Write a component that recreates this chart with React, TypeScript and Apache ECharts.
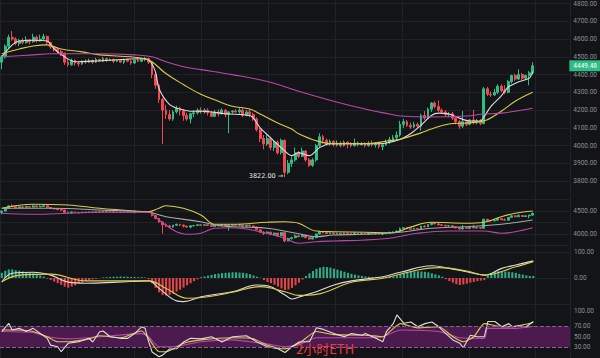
import React, { useEffect, useRef } from 'react';
import * as echarts from 'echarts';

// [open, close, low, high] per 2h candle
const candles: number[][] = [
  [4470,4500,4430,4510],[4500,4560,4490,4570],[4560,4610,4550,4625],[4610,4600,4590,4645],[4600,4575,4565,4610],
  [4575,4590,4560,4600],[4590,4580,4570,4605],[4580,4595,4575,4615],[4595,4585,4570,4600],[4585,4610,4580,4630],
  [4610,4590,4580,4620],[4590,4600,4585,4625],[4600,4615,4595,4630],[4615,4580,4570,4620],[4580,4555,4545,4585],
  [4555,4545,4530,4560],[4545,4530,4520,4555],[4530,4520,4505,4540],[4520,4470,4455,4525],[4470,4455,4445,4490],
  [4455,4480,4450,4490],[4480,4465,4450,4485],[4465,4460,4445,4475],[4460,4475,4455,4480],[4475,4470,4460,4485],
  [4470,4480,4465,4490],[4480,4470,4460,4485],[4470,4485,4465,4495],[4485,4475,4470,4490],[4475,4490,4470,4500],
  [4490,4480,4470,4495],[4480,4485,4475,4490],[4485,4475,4465,4490],[4475,4480,4470,4485],[4480,4470,4465,4485],
  [4470,4485,4460,4490],[4485,4475,4470,4490],[4475,4465,4455,4480],[4465,4480,4460,4485],[4480,4475,4470,4490],
  [4475,4485,4470,4490],[4485,4490,4475,4500],[4490,4470,4460,4495],[4470,4400,4380,4475],[4400,4340,4320,4410],
  [4340,4260,4240,4350],[4260,4200,4010,4270],[4200,4175,4150,4230],[4175,4150,4140,4200],[4150,4190,4140,4200],
  [4190,4210,4180,4225],[4210,4195,4170,4220],[4195,4170,4140,4205],[4170,4150,4140,4185],[4150,4180,4125,4185],
  [4180,4185,4160,4200],[4185,4200,4175,4210],[4200,4190,4180,4215],[4190,4200,4180,4210],[4200,4185,4170,4210],
  [4185,4165,4160,4195],[4165,4190,4160,4200],[4190,4180,4165,4205],[4180,4200,4175,4210],[4200,4175,4160,4205],
  [4175,4190,4070,4195],[4190,4195,4180,4200],[4195,4190,4185,4205],[4190,4200,4180,4215],[4200,4170,4160,4210],
  [4170,4190,4165,4200],[4190,4175,4160,4205],[4175,4150,4140,4185],[4150,4090,4080,4160],[4090,4040,4020,4100],
  [4040,4010,3980,4060],[4010,4040,4000,4060],[4040,3990,3975,4050],[3990,4020,3970,4030],[4020,3960,3950,4030],
  [3960,4030,3950,4040],[4030,3850,3822,4035],[3850,3900,3840,3920],[3900,3920,3880,3940],[3920,3960,3910,3990],
  [3960,3940,3930,3970],[3940,3970,3935,3990],[3970,3920,3910,3975],[3920,3890,3880,3930],[3890,3920,3880,3930],
  [3920,4000,3910,4010],[4000,4050,3990,4070],[4050,4030,4010,4060],[4030,4010,4000,4040],[4010,4025,4000,4035],
  [4025,4005,3995,4030],[4005,4015,3995,4030],[4015,4000,3990,4025],[4000,4020,3995,4030],[4020,4010,3985,4025],
  [4010,4000,3990,4020],[4000,4015,3995,4040],[4015,4005,3995,4025],[4005,4010,4000,4020],[4010,4000,3990,4020],
  [4000,4015,3995,4025],[4015,4005,3995,4030],[4005,4010,3990,4020],[4010,3995,3985,4020],[3995,4005,3975,4015],
  [4005,4020,4000,4035],[4020,4035,4010,4050],[4035,4045,4025,4060],[4045,4060,4035,4080],[4060,4120,4050,4140],
  [4120,4135,4100,4150],[4135,4115,4105,4145],[4115,4105,4095,4130],[4105,4120,4100,4135],[4120,4110,4100,4130],
  [4110,4170,4085,4180],[4170,4155,4145,4195],[4155,4205,4150,4215],[4205,4240,4190,4245],[4240,4220,4210,4250],
  [4220,4200,4190,4255],[4200,4190,4180,4210],[4190,4175,4165,4200],[4175,4180,4160,4190],[4180,4155,4145,4190],
  [4155,4135,4120,4165],[4135,4110,4095,4145],[4110,4135,4100,4195],[4135,4120,4110,4145],[4120,4145,4115,4150],
  [4145,4130,4120,4200],[4130,4140,4120,4150],[4140,4125,4115,4150],[4125,4320,4120,4330],[4320,4290,4280,4330],
  [4290,4285,4275,4305],[4285,4300,4280,4320],[4300,4335,4290,4345],[4335,4310,4300,4345],[4310,4300,4290,4340],
  [4300,4360,4295,4370],[4360,4395,4350,4400],[4395,4375,4365,4405],[4375,4400,4370,4430],[4400,4380,4370,4410],
  [4380,4395,4370,4400],[4395,4410,4340,4420],[4410,4449.48,4400,4470],
];

const emptySlots = 10;
const categories: string[] = [...candles.map((_, i) => `K${i + 1}`), ...Array(emptySlots).fill('')];

// main panel moving averages, read as [candle index, price]
const maFast: number[][] = [[0,4500],[3,4567],[5,4589],[9,4593],[13,4589],[15,4544],[18,4500],[21,4472],[28,4478],[40,4489],[42,4483],[44,4417],[45,4322],[48,4233],[51,4206],[54,4194],[57,4194],[64,4180],[71,4170],[72,4156],[74,4100],[77,4044],[80,3989],[83,3944],[85,3961],[88,3944],[91,3989],[94,4011],[100,4011],[108,4011],[114,4035],[117,4067],[120,4115],[123,4170],[125,4183],[128,4178],[131,4155],[134,4139],[137,4139],[138,4160],[140,4220],[143,4280],[145,4330],[148,4360],[151,4380],[152,4417]];
const maMid: number[][] = [[0,4517],[5,4544],[9,4561],[13,4567],[17,4544],[23,4528],[28,4511],[37,4500],[41,4489],[43,4472],[47,4406],[52,4344],[57,4289],[62,4250],[66,4222],[71,4206],[74,4178],[79,4128],[83,4094],[85,4067],[90,4028],[95,4011],[104,4011],[111,4028],[114,4036],[120,4072],[123,4094],[128,4122],[133,4128],[138,4139],[143,4194],[147,4250],[152,4300]];
const maSlow: number[][] = [[0,4500],[9,4511],[14,4517],[28,4517],[38,4511],[43,4500],[47,4472],[52,4444],[57,4428],[66,4400],[76,4361],[85,4306],[95,4250],[104,4206],[111,4178],[114,4167],[123,4161],[133,4167],[138,4178],[143,4183],[152,4211]];

// second panel bands
const bandUpper: number[][] = [[0,4559],[9,4646],[19,4630],[28,4559],[38,4500],[42,4485],[45,4559],[47,4615],[52,4559],[57,4413],[61,4211],[66,4211],[76,4254],[81,4267],[85,4233],[90,4065],[95,4050],[104,4037],[112,4028],[117,4150],[123,4254],[133,4233],[138,4254],[143,4376],[147,4450],[152,4500]];
const bandMid: number[][] = [[0,4559],[14,4559],[28,4522],[42,4472],[47,4376],[57,4267],[61,4196],[66,4159],[76,4124],[85,4005],[90,3941],[95,3978],[104,3993],[114,4037],[123,4124],[133,4159],[143,4211],[152,4304]];
const bandLower: number[][] = [[0,4450],[9,4428],[19,4450],[28,4472],[42,4472],[45,4304],[50,4050],[54,3993],[57,4015],[61,4124],[66,4137],[74,4050],[81,3907],[85,3798],[90,3833],[95,3848],[104,3870],[112,3920],[119,4015],[128,4065],[138,4065],[143,4015],[147,4050],[152,4137]];

// MACD
const macdHist: number[] = [
  20,28,33,33,30,28,25,22,20,18,15,
  10,6,
  -3,-8,-14,-20,-26,-33,-37,-33,-28,
  -22,-17,-12,-8,-5,-3,-1,
  2,3,4,5,5,6,5,5,4,4,3,3,2,
  -5,-20,-38,-55,-65,-67,-65,-60,-52,-45,-37,-28,-20,-12,
  -5,
  3,6,9,12,15,17,19,20,21,22,22,21,20,18,15,10,5,1,
  -8,-15,-20,-26,-33,-40,-46,-44,-38,-28,-18,
  -6,
  8,18,27,35,40,43,42,40,36,32,28,24,20,16,13,10,8,6,5,
  4,4,3,3,4,5,6,
  10,15,20,23,25,26,26,25,24,22,18,14,10,5,
  -5,-12,-18,-24,-27,-25,-22,-18,-15,-12,-10,-8,
  10,18,23,26,26,25,24,22,20,16,13,10,8,8,
];
const macdDif: number[][] = [[0,-16],[3,18],[9,22],[14,11],[19,-16],[24,-20],[33,-16],[42,-11],[45,-40],[50,-88],[52,-91],[57,-72],[66,-53],[73,-27],[76,-30],[81,-65],[83,-81],[85,-73],[90,-53],[95,-27],[100,-11],[109,5],[114,22],[123,47],[128,37],[133,24],[138,11],[143,37],[147,50],[152,66]];
const macdDea: number[][] = [[0,-15],[5,11],[14,15],[24,-11],[42,-11],[47,-40],[53,-78],[59,-72],[66,-55],[74,-33],[81,-53],[85,-67],[90,-63],[100,-16],[109,-1],[119,31],[125,40],[133,27],[138,11],[147,43],[152,63]];

// RSI
const rsi6: number[][] = [[0,59.6],[2,75.6],[3,63],[5,66],[7,60],[9,66],[11,56.5],[13,47],[14,34],[16,31],[17,21.5],[19,37.5],[22,40.6],[25,47],[26,40],[28,59.6],[29,61],[31,50],[34,47],[36,47],[38,56],[40,69],[41,66],[42,40.6],[43,21],[45,12],[46,15],[48,26.7],[50,27],[52,40],[54,47],[57,46],[60,50],[63,40],[66,50],[70,52],[73,40],[76,31],[79,27],[81,20],[83,31],[85,40],[86,40.6],[88,40.6],[90,67],[92,64],[95,56],[98,50],[100,56],[103,53],[104,56],[107,47],[109,40.6],[110,59.6],[112,75.6],[113,91.5],[115,75.6],[117,78],[119,69],[121,75],[123,78],[125,69],[127,56],[129,44],[131,37.5],[132,29],[134,53],[136,50],[138,50],[139,79],[141,79],[143,69],[145,75],[146,69],[148,71],[150,69],[152,79]];
const rsi12: number[][] = [[0,63],[5,63],[9,60],[13,50],[16,40.6],[19,40.6],[25,46],[28,52],[34,48],[40,61],[42,47],[45,21.5],[47,21.5],[52,37.5],[57,44],[66,48],[72,46],[76,34],[81,27],[85,37.5],[90,60],[95,54],[104,53],[109,50],[112,66],[114,75],[119,67],[125,69],[129,50],[132,40.6],[135,50],[138,75],[143,69],[147,70],[152,77]];
const rsi24: number[][] = [[0,60],[9,58],[13,50],[19,46],[28,50],[40,56],[42,50],[45,31],[49,31],[57,40.6],[66,44],[76,36],[81,31],[85,35],[90,48],[100,48],[109,50],[114,63],[125,60],[131,48],[138,47],[139,66],[147,66],[152,70]];

const BG = '#131417';
const GRIDC = '#202228';
const UP = '#2ebd85';
const DOWN = '#ef4a55';
const C_WHITE = '#dcdcde';
const C_YELLOW = '#dccb48';
const C_MAGENTA = '#b849a8';
const LABEL = '#8e9197';
const FONT = 'Roboto, "DejaVu Sans", sans-serif';

export default function App() {
  const ref = useRef<HTMLDivElement>(null);
  useEffect(() => {
    const chart = echarts.init(ref.current!, null, { renderer: 'svg' });
    const last = candles[candles.length - 1][1];
    let minIdx = 0;
    candles.forEach((c, i) => { if (c[2] < candles[minIdx][2]) minIdx = i; });
    const minLow = candles[minIdx][2];

    const catAxis = (g: number) => ({ type: 'category', gridIndex: g, data: categories, boundaryGap: true, show: false });
    const lbl = (fmt: (v: number) => string) => ({ color: LABEL, fontSize: 6.5, fontFamily: FONT, margin: 4, formatter: fmt });
    const line = (data: number[][], color: string, x: number, smooth: number | boolean = 0.4) => ({
      type: 'line', xAxisIndex: x, yAxisIndex: x, data, symbol: 'none', smooth, silent: true,
      lineStyle: { color, width: 1.1 }, z: 3,
    });

    const option: any = {
      animation: false,
      backgroundColor: BG,
      title: {
        text: '2小时ETH', left: 291, top: 337,
        textStyle: { color: '#ea3a3f', fontSize: 13, fontWeight: 'normal', fontFamily: '"Noto Sans CJK SC", "Noto Sans", sans-serif' },
      },
      grid: [
        { left: 0, right: 30, top: 1, height: 198 },
        { left: 0, right: 30, top: 199.5, height: 46 },
        { left: 0, right: 30, top: 252, height: 52 },
        { left: 0, right: 30, top: 310.5, height: 47.25 },
        { left: -39.96, right: 30, top: 0, bottom: 0 },
      ],
      xAxis: [
        catAxis(0), catAxis(1), catAxis(2), catAxis(3),
        {
          type: 'value', gridIndex: 4, min: 0, max: 609.96, interval: 71.66,
          axisLine: { show: false }, axisTick: { show: false }, axisLabel: { show: false },
          splitLine: { show: true, lineStyle: { color: GRIDC, width: 1 } },
        },
      ],
      yAxis: [
        {
          type: 'value', gridIndex: 0, position: 'right', min: 3700, max: 4800, interval: 100, scale: true,
          axisLine: { show: false }, axisTick: { show: false },
          axisLabel: { ...lbl((v: number) => v.toFixed(2)), showMinLabel: false },
          splitLine: { lineStyle: { color: GRIDC } },
        },
        {
          type: 'value', gridIndex: 1, position: 'right', min: 3750, max: 4750, interval: 250, scale: true,
          axisLine: { show: false }, axisTick: { show: false },
          axisLabel: lbl((v: number) => (v % 500 === 0 ? v.toFixed(2) : '')),
          splitLine: { lineStyle: { color: GRIDC } },
        },
        {
          type: 'value', gridIndex: 2, position: 'right', min: -100, max: 100, interval: 100,
          axisLine: { show: false }, axisTick: { show: false },
          axisLabel: lbl((v: number) => (v >= 0 ? v.toFixed(2) : '')),
          splitLine: { lineStyle: { color: GRIDC } },
        },
        {
          type: 'value', gridIndex: 3, position: 'right', min: 10, max: 100, interval: 10,
          axisLine: { show: false }, axisTick: { show: false },
          axisLabel: lbl((v: number) => ([100, 70, 50, 30].includes(Math.round(v)) ? v.toFixed(2) : '')),
          splitLine: { show: false },
        },
        { type: 'value', gridIndex: 4, show: false, min: 0, max: 1 },
      ],
      series: [
        {
          type: 'candlestick', xAxisIndex: 0, yAxisIndex: 0, data: candles, barWidth: '65%', silent: true,
          itemStyle: { color: UP, color0: DOWN, borderColor: UP, borderColor0: DOWN, borderWidth: 1 },
          markPoint: {
            symbol: 'circle', symbolSize: 1, silent: true,
            itemStyle: { color: 'rgba(0,0,0,0)' },
            label: {
              show: true, position: 'left', distance: 1, offset: [0, -1],
              formatter: `${minLow.toFixed(2)} \u2192`, color: '#e8e8e8', fontSize: 6.5,
              fontFamily: '"DejaVu Sans", Roboto, sans-serif',
            },
            data: [{ coord: [minIdx, minLow], value: minLow }],
          },
          markLine: {
            symbol: 'none', silent: true,
            lineStyle: { color: 'rgba(0,0,0,0)', width: 0 },
            label: {
              show: true, position: 'end', distance: 0, formatter: last.toFixed(2),
              backgroundColor: UP, color: '#ffffff', fontSize: 6.5, fontFamily: FONT, padding: [2, 3, 2, 4],
            },
            data: [{ yAxis: last }],
          },
        },
        line(maFast, C_WHITE, 0, 0.3),
        line(maMid, C_YELLOW, 0),
        line(maSlow, C_MAGENTA, 0),
        {
          type: 'candlestick', xAxisIndex: 1, yAxisIndex: 1, data: candles, barWidth: '65%', silent: true,
          itemStyle: { color: UP, color0: DOWN, borderColor: UP, borderColor0: DOWN, borderWidth: 1 },
        },
        line(bandUpper, C_YELLOW, 1),
        line(bandMid, '#a9a9ad', 1),
        line(bandLower, C_MAGENTA, 1),
        {
          type: 'bar', xAxisIndex: 2, yAxisIndex: 2, data: macdHist, barWidth: '60%', silent: true,
          itemStyle: { color: (p: any) => (p.value >= 0 ? '#2fa986' : '#e2444c') },
        },
        line(macdDif, C_WHITE, 2),
        line(macdDea, C_YELLOW, 2),
        {
          ...line(rsi24, C_MAGENTA, 3, 0.2),
          markArea: {
            silent: true,
            itemStyle: { color: '#4c1b4e' },
            data: [[{ yAxis: 30 }, { yAxis: 70 }]],
          },
          markLine: {
            symbol: 'none', silent: true,
            lineStyle: { color: '#8c5a8e', type: 'dashed', width: 1 },
            label: { show: false },
            data: [{ yAxis: 70 }, { yAxis: 30 }],
          },
        },
        line(rsi12, C_YELLOW, 3, 0.2),
        line(rsi6, C_WHITE, 3, false),
      ],
    };
    chart.setOption(option);
    return () => chart.dispose();
  }, []);
  return (
    <div
      ref={ref}
      style={{ position: 'fixed', left: 0, top: 0, width: 600, height: 358, background: BG }}
    />
  );
}
